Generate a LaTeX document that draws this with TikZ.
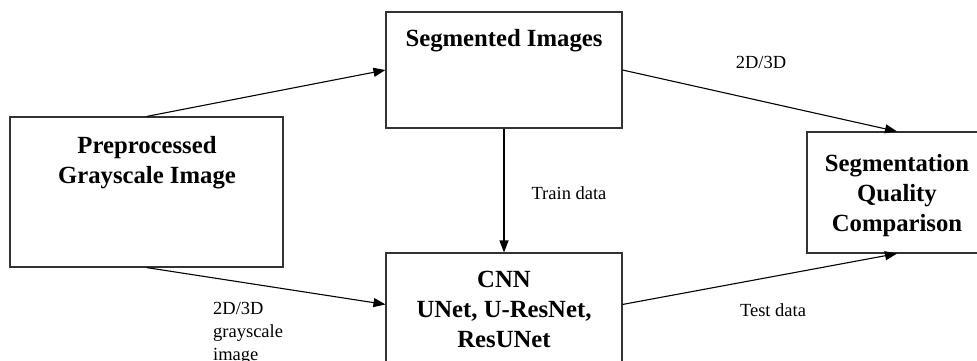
\documentclass[tikz,border=0pt]{standalone}
\usepackage{fontspec}
\setmainfont{Liberation Serif}
\usetikzlibrary{arrows.meta}
\begin{document}
\begin{tikzpicture}[x=1pt,y=-1pt,
  box/.style={draw=black!80, line width=1.1pt, inner sep=0pt},
  title/.style={font=\bfseries\fontsize{24.7}{30}\selectfont, align=center, inner sep=0pt},
  lbl/.style={font=\fontsize{18.5}{23}\selectfont, inner sep=0pt},
  conn/.style={line width=1.1pt, -{Triangle[length=12pt,width=9pt]}}]
\useasboundingbox (0,0) rectangle (977,360);
\clip (0,0) rectangle (977,360);
\node[box, minimum width=273pt, minimum height=150pt] (pre) at (146.5,192) {};
\node[box, minimum width=236pt, minimum height=116pt] (seg) at (504,70) {};
\node[box, minimum width=236pt, minimum height=160pt] (cnn) at (504,333) {};
\node[box, minimum width=180pt, minimum height=121pt] (sqc) at (897,192.5) {};
\node[title] (tpre) at (147,163) {Preprocessed\\Grayscale Image};
\node[title] (tseg) at (504,41) {Segmented Images};
\node[title] (tcnn) at (504,309) {CNN\\UNet, U-ResNet,\\ResUNet};
\node[title] (tsqc) at (897,196) {Segmentation\\Quality\\Comparison};
\coordinate (cnnin) at ([yshift=-52pt]cnn.north west);
\coordinate (cnnout) at ([yshift=-52pt]cnn.north east);
\draw[conn] (pre.north) -- (seg.west);
\draw[conn] (pre.south) -- (cnnin);
\draw[conn] (seg.south) -- (cnn.north);
\draw[conn] (seg.east) -- (sqc.north);
\draw[conn] (cnnout) -- (sqc.south);
\node[lbl] (l1) at (761,62) {2D/3D};
\node[lbl] (l2) at (569,193) {Train data};
\node[lbl] (l3) at (773,310) {Test data};
\node[lbl, align=left, anchor=north west] (l4) at (213,302) {2D/3D\\grayscale\\image};
\end{tikzpicture}
\end{document}
